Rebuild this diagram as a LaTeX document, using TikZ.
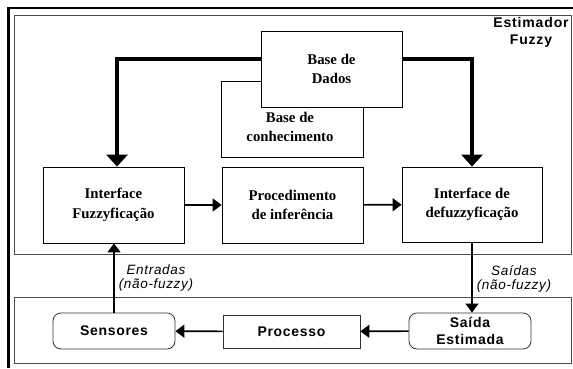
\documentclass[tikz,border=0pt]{standalone}
\usepackage{fontspec}
\setmainfont{Liberation Serif}
\setsansfont{Liberation Sans}
\usetikzlibrary{arrows.meta}

\begin{document}
\begin{tikzpicture}[x=1pt, y=-1pt,
  frame/.style={draw=black!70, line width=0.9pt, minimum width=557pt},
  blk/.style={draw, line width=0.8pt, fill=white, align=center,
    minimum width=141pt, minimum height=76pt, inner sep=2pt,
    font=\fontsize{14.8}{19.5}\selectfont\bfseries},
  io/.style={draw=black!80, line width=0.8pt, fill=white, align=center,
    minimum width=122pt, minimum height=36pt, inner sep=1pt,
    font=\sffamily\fontsize{14}{17}\selectfont\bfseries\addfontfeature{LetterSpace=5}},
  rnd/.style={io, rounded corners=8pt},
  lbl/.style={align=center, inner sep=1pt,
    font=\sffamily\itshape\fontsize{13.5}{14.5}\selectfont\addfontfeature{LetterSpace=5}},
  arr/.style={-{Triangle[width=13pt,length=9pt]}, line width=1.6pt},
  bigarr/.style={-{Triangle[width=21pt,length=12pt]}, line width=3.5pt},
]
\useasboundingbox (0,0) rectangle (573,368);

% frames
\draw[line width=2.5pt] (8.5,368) -- (8.5,8) -- (573,8);
\node[frame, minimum height=239pt] (estbox) at (292.5,134.5) {};
\node[frame, minimum height=66pt] (procbox) at (292.5,330) {};
\node[align=center, inner sep=0pt,
      font=\sffamily\fontsize{14}{17}\selectfont\bfseries\addfontfeature{LetterSpace=6}]
  (estlbl) at (531,32) {Estimador\\Fuzzy};

% knowledge base
\node[blk, minimum width=142pt] (conhec) at (292,119) {};
\node[align=center, inner sep=0pt, font=\fontsize{14.8}{19.5}\selectfont\bfseries]
  (conhecTxt) at (290,127) {Base de\\conhecimento};
\node[blk] (dados) at (331.5,69) {Base de\\Dados};

% fuzzy chain
\node[blk] (fuzz)   at (113.5,205) {Interface\\Fuzzyficação};
\node[blk] (infer)  at (292.5,205) {Procedimento\\de inferência};
\node[blk, minimum width=140pt, minimum height=75pt]
  (defuzz) at (472,204.5) {Interface de\\defuzzyficação};

% process loop
\node[rnd] (sens) at (114,331) {Sensores};
\node[io, minimum width=137pt, minimum height=33pt] (proc) at (291.5,331.5) {Processo};
\node[rnd] (saida) at (470,331) {Saída\\Estimada};

\draw[bigarr] ([yshift=10pt]dados.west) -| ([xshift=3.5pt]fuzz.north);
\draw[bigarr] ([yshift=10pt]dados.east) -| (defuzz.north);
\draw[arr] (fuzz) -- (infer);
\draw[arr] (infer) -- (defuzz);

\draw[arr] (sens.north) -- (sens.north|-fuzz.south)
  node[lbl, pos=0.5, anchor=west, xshift=3pt] (entr) {Entradas\\(não-fuzzy)};
\draw[arr] (defuzz.south) -- (defuzz.south|-saida.north)
  node[lbl, pos=0.52, anchor=west, xshift=3pt] (said) {Saídas\\(não-fuzzy)};
\draw[arr] (saida) -- (proc);
\draw[arr] (proc) -- (sens);
\end{tikzpicture}
\end{document}
